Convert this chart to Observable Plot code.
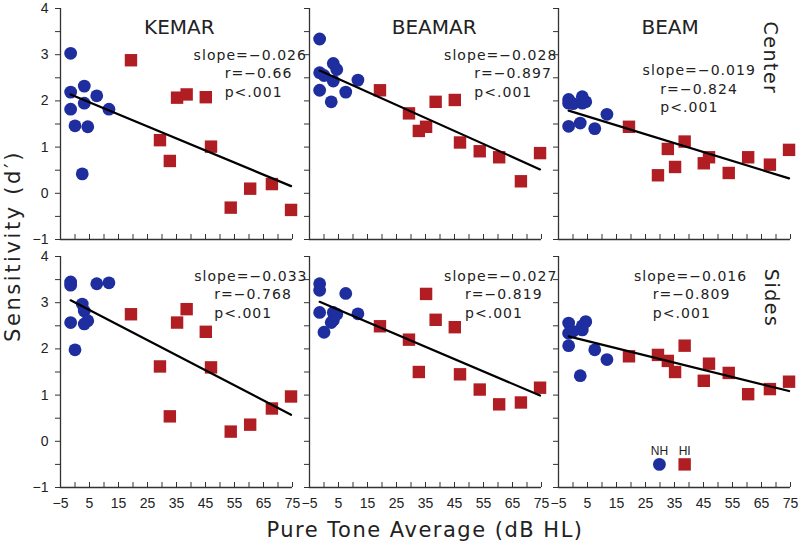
<!DOCTYPE html>
<html><head><meta charset="utf-8">
<script src="https://cdn.jsdelivr.net/npm/d3@7"></script>
<script src="https://cdn.jsdelivr.net/npm/@observablehq/plot@0.6"></script>
<style>
body{margin:0;background:#fff}
#chart{position:relative;width:800px;height:544px}
</style>
</head><body><div id="chart"></div>
<script>
// ---------- data ----------
const models = ["KEMAR", "BEAMAR", "BEAM"];
const conditions = ["Center", "Sides"];
const xTicks = [-5, 5, 15, 25, 35, 45, 55, 65, 75];
const yTicks = [-1, 0, 1, 2, 3, 4];

// pure tone average (dB HL) of each listener
const nhPTA = [-1.5, -1.5, -1.5, 0, 2.5, 3.2, 3.2, 4.4, 7.5, 11.7];
const hiPTA = [19.3, 29.3, 32.7, 35.2, 38.5, 45.1, 46.9, 53.7, 60.4, 67.9, 74.5];

// sensitivity d' — normal hearing (NH)
const nhKemarCenter  = [3.03, 2.19, 1.82, 1.46, 0.42, 2.32, 1.95, 1.44, 2.11, 1.82];
const nhBeamarCenter = [3.34, 2.61, 2.23, 2.55, 1.98, 2.81, 2.43, 2.68, 2.19, 2.45];
const nhBeamCenter   = [2.03, 1.95, 1.45, 1.94, 1.52, 2.09, 1.95, 1.98, 1.40, 1.71];
const nhKemarSides   = [3.45, 3.38, 2.57, 1.98, 2.97, 2.82, 2.54, 2.61, 3.41, 3.43];
const nhBeamarSides  = [3.41, 3.27, 2.79, 2.36, 2.57, 2.79, 2.62, 2.75, 3.20, 2.76];
const nhBeamSides    = [2.56, 2.34, 2.07, 2.38, 1.42, 2.41, 2.50, 2.59, 1.98, 1.77];

// sensitivity d' — hearing impaired (HI)
const hiKemarCenter  = [2.88, 1.15, 0.70, 2.07, 2.14, 2.08, 1.01, -0.31, 0.10, 0.20, -0.36];
const hiBeamarCenter = [2.23, 1.73, 1.35, 1.44, 1.98, 2.02, 1.10, 0.91, 0.78, 0.26, 0.87];
const hiBeamCenter   = [1.44, 0.39, 0.96, 0.57, 1.12, 0.65, 0.78, 0.44, 0.78, 0.62, 0.94];
const hiKemarSides   = [2.75, 1.62, 0.54, 2.57, 2.86, 2.37, 1.60, 0.21, 0.36, 0.71, 0.97];
const hiBeamarSides  = [2.49, 2.20, 1.50, 3.19, 2.63, 2.47, 1.45, 1.12, 0.80, 0.84, 1.16];
const hiBeamSides    = [1.84, 1.87, 1.74, 1.50, 2.07, 1.31, 1.68, 1.48, 1.02, 1.13, 1.29];

// regression statistics, panel order: KEMAR, BEAMAR, BEAM × Center, Sides
const slopes = [-0.026, -0.028, -0.019, -0.033, -0.027, -0.016];
const rValues = [-0.66, -0.897, -0.824, -0.768, -0.819, -0.809];
const pLabels = ["p<.001", "p<.001", "p<.001", "p<.001", "p<.001", "p<.001"];
const groupLabels = ["NH", "HI"];

// ---------- layout (annotation placement, data units) ----------
const statsLayout = [
  {sx: 40.9, sy: 2.99, rx: 51.6},
  {sx: 41.4, sy: 2.99, rx: 51.8},
  {sx: 24.0, sy: 2.65, rx: 30.1},
  {sx: 41.1, sy: 3.57, rx: 48.0},
  {sx: 41.4, sy: 3.57, rx: 48.6},
  {sx: 21.0, sy: 3.57, rx: 27.5}
];
const lineStep = 0.4;
const titleLayout = [{x: 36, y: 3.58}, {x: 38, y: 3.58}, {x: 33.5, y: 3.58}];
const condLayout = [{x: 67.8, y: 2.93}, {x: 68.4, y: 3.1}];
const legendLayout = {nhX: 29.8, hiX: 38.5, markY: -0.5, textY: -0.22};

// ---------- build tables ----------
const nhSeries = [nhKemarCenter, nhBeamarCenter, nhBeamCenter, nhKemarSides, nhBeamarSides, nhBeamSides];
const hiSeries = [hiKemarCenter, hiBeamarCenter, hiBeamCenter, hiKemarSides, hiBeamarSides, hiBeamSides];
const panels = [];
conditions.forEach((c) => models.forEach((m) => panels.push({model: m, cond: c})));

const nhRows = [], hiRows = [], statRows = [];
panels.forEach((p, i) => {
  nhSeries[i].forEach((v, j) => nhRows.push({model: p.model, cond: p.cond, x: nhPTA[j], y: v}));
  hiSeries[i].forEach((v, j) => hiRows.push({model: p.model, cond: p.cond, x: hiPTA[j], y: v}));
  const L = statsLayout[i];
  const fmt = (v) => String(v).replace("-", "\u2212");
  statRows.push({model: p.model, cond: p.cond, x: L.sx, y: L.sy, t: "slope=" + fmt(slopes[i])});
  statRows.push({model: p.model, cond: p.cond, x: L.rx, y: L.sy - lineStep, t: "r=" + fmt(rValues[i])});
  statRows.push({model: p.model, cond: p.cond, x: L.rx, y: L.sy - 2 * lineStep, t: pLabels[i]});
});
const allRows = nhRows.concat(hiRows);
const titleRows = models.map((m, i) => ({model: m, cond: "Center", x: titleLayout[i].x, y: titleLayout[i].y, t: m}));
const condRows = conditions.map((c, i) => ({model: "BEAM", cond: c, x: condLayout[i].x, y: condLayout[i].y, t: c}));
const legendNH = [{model: "BEAM", cond: "Sides", x: legendLayout.nhX, y: legendLayout.markY, ty: legendLayout.textY, t: groupLabels[0]}];
const legendHI = [{model: "BEAM", cond: "Sides", x: legendLayout.hiX, y: legendLayout.markY, ty: legendLayout.textY, t: groupLabels[1]}];

const blue = "#1f2e9e", red = "#b01e24", axisColor = "#333";
const tickFont = "Liberation Sans Narrow, Liberation Sans, Arial, sans-serif";

const chart = Plot.plot({
  width: 800, height: 544,
  marginLeft: 59, marginRight: 9, marginTop: 7, marginBottom: 56,
  style: {fontFamily: "DejaVu Sans, sans-serif", background: "white", color: "#222"},
  fx: {domain: models, axis: null, paddingInner: 0.068, paddingOuter: 0},
  fy: {domain: conditions, axis: null, paddingInner: 0.068, paddingOuter: 0},
  x: {domain: [-5, 75]},
  y: {domain: [-1, 4]},
  marks: [
    Plot.axisY(d3.range(-1, 4.001, 0.5), {tickSize: 5, tickFormat: () => "", label: null, facetAnchor: null, stroke: axisColor}),
    Plot.axisX(d3.range(-5, 75.001, 5), {tickSize: -5, tickFormat: () => "", label: null, facetAnchor: null, stroke: axisColor}),
    Plot.axisY(yTicks, {tickSize: 0, tickPadding: 12, label: null, fontSize: 14, fontFamily: tickFont, tickFormat: (d) => String(d).replace("-", "\u2212")}),
    Plot.axisX(xTicks, {tickSize: 0, tickPadding: 11, label: null, fontSize: 14, fontFamily: tickFont, tickFormat: (d) => String(d).replace("-", "\u2212")}),
    Plot.ruleX([-5], {stroke: axisColor, strokeWidth: 1.3}),
    Plot.ruleY([-1], {stroke: axisColor, strokeWidth: 1.3}),
    Plot.dot(hiRows, {x: "x", y: "y", fx: "model", fy: "cond", symbol: "square", r: 7, fill: red}),
    Plot.dot(nhRows, {x: "x", y: "y", fx: "model", fy: "cond", symbol: "circle", r: 6.4, fill: blue}),
    Plot.linearRegressionY(allRows, {x: "x", y: "y", fx: "model", fy: "cond", ci: 0, stroke: "black", strokeWidth: 2.2}),
    Plot.text(statRows, {x: "x", y: "y", fx: "model", fy: "cond", text: "t", textAnchor: "start", fontSize: 14, fill: "#222"}),
    Plot.text(titleRows, {x: "x", y: "y", fx: "model", fy: "cond", text: "t", fontSize: 20, fill: "#222"}),
    Plot.text(condRows, {x: "x", y: "y", fx: "model", fy: "cond", text: "t", rotate: 90, fontSize: 19, fill: "#222"}),
    Plot.dot(legendNH, {x: "x", y: "y", fx: "model", fy: "cond", symbol: "circle", r: 6.4, fill: blue}),
    Plot.dot(legendHI, {x: "x", y: "y", fx: "model", fy: "cond", symbol: "square", r: 7, fill: red}),
    Plot.text(legendNH.concat(legendHI), {x: "x", y: "ty", fx: "model", fy: "cond", text: "t", fontSize: 12, fontFamily: tickFont, fill: "#222"})
  ]
});

const svg = d3.select(chart);
svg.selectAll("text").each(function () {
  const s = this.textContent;
  if (/^(slope=|r=|p<)/.test(s)) d3.select(this).style("letter-spacing", "1.05px");
  if (s === "Center" || s === "Sides") d3.select(this).style("letter-spacing", "1.5px");
});
svg.append("text")
  .attr("x", 425).attr("y", 537)
  .attr("text-anchor", "middle")
  .attr("font-size", 21).attr("fill", "#222")
  .style("letter-spacing", "1.5px")
  .text("Pure Tone Average (dB HL)");
svg.append("text")
  .attr("transform", "translate(20,246) rotate(-90)")
  .attr("text-anchor", "middle")
  .attr("font-size", 21).attr("fill", "#222")
  .style("letter-spacing", "2.6px")
  .text("Sensitivity (d\u2032)");

document.getElementById("chart").appendChild(chart);
</script>
</body></html>
